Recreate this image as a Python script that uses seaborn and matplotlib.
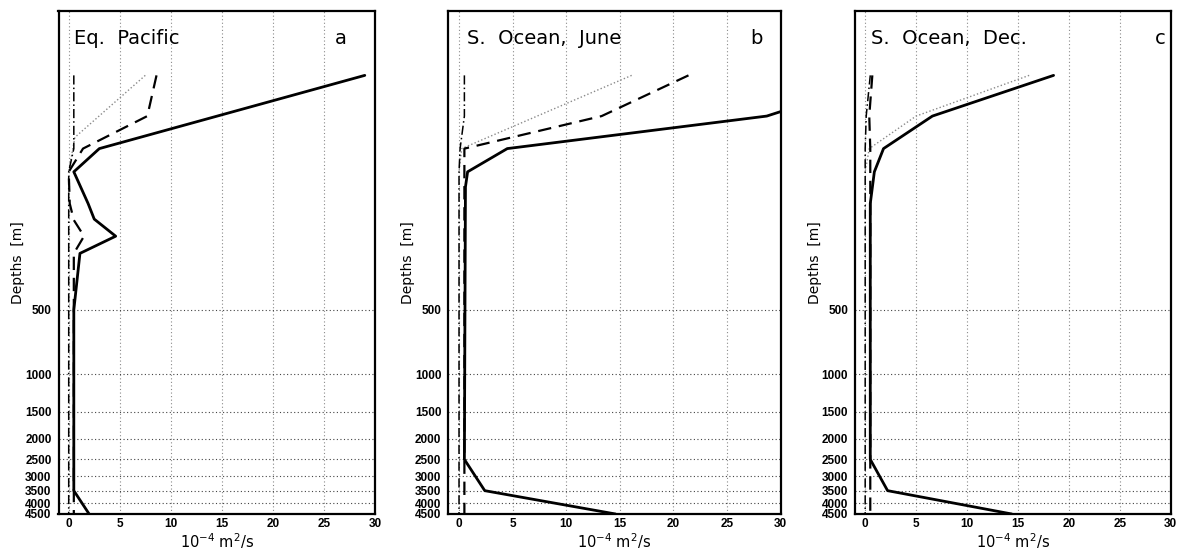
import matplotlib
matplotlib.use("Agg")
import matplotlib.pyplot as plt
from matplotlib.ticker import NullLocator, FixedLocator
import seaborn as sns

# Panel titles and letters
regions = ["Eq.  Pacific", "S.  Ocean,  June", "S.  Ocean,  Dec."]
letters = ["a", "b", "c"]

depth_ticks = [500, 1000, 1500, 2000, 2500, 3000, 3500, 4000, 4500]
x_ticks = [0, 5, 10, 15, 20, 25, 30]

# Eq. Pacific profiles (depth [m], diffusivity [1e-4 m2/s])
a_solid_depth = [40, 88, 113, 159, 188, 226, 272, 500, 3500, 4500]
a_solid = [29.0, 3.0, 0.5, 1.9, 2.5, 4.6, 1.1, 0.5, 0.5, 2.0]
a_dash_depth = [40, 62, 88, 113, 159, 190, 226, 272, 4500]
a_dash = [8.6, 7.7, 1.4, 0.0, 0.1, 0.5, 1.5, 0.5, 0.5]
a_dashdot_depth = [40, 88, 113, 4500]
a_dashdot = [0.5, 0.5, 0.0, 0.0]
a_dot_depth = [40, 78, 113]
a_dot = [7.5, 0.6, 0.0]

# S. Ocean, June profiles
b_solid_depth = [40, 62, 88, 113, 133, 2500, 3500, 4500]
b_solid = [40.5, 28.7, 4.5, 0.8, 0.6, 0.5, 2.4, 14.6]
b_dash_depth = [40, 62, 88, 4500]
b_dash = [21.4, 13.3, 0.5, 0.5]
b_dashdot_depth = [40, 62, 88, 113, 4500]
b_dashdot = [0.5, 0.5, 0.1, 0.0, 0.0]
b_dot_depth = [40, 88, 113]
b_dot = [16.1, 0.25, 0.0]

# S. Ocean, Dec. profiles
c_solid_depth = [40, 62, 88, 113, 159, 2500, 3500, 4500]
c_solid = [18.5, 6.6, 1.8, 0.9, 0.5, 0.5, 2.2, 14.4]
c_dash_depth = [40, 62, 88, 4500]
c_dash = [0.7, 0.4, 0.5, 0.5]
c_dashdot_depth = [40, 62, 88, 4500]
c_dashdot = [0.5, 0.1, 0.0, 0.0]
c_dot_depth = [40, 62, 88, 113]
c_dot = [16.1, 5.0, 0.4, 0.0]

profiles = [
    [(a_dot_depth, a_dot), (a_dashdot_depth, a_dashdot), (a_dash_depth, a_dash), (a_solid_depth, a_solid)],
    [(b_dot_depth, b_dot), (b_dashdot_depth, b_dashdot), (b_dash_depth, b_dash), (b_solid_depth, b_solid)],
    [(c_dot_depth, c_dot), (c_dashdot_depth, c_dashdot), (c_dash_depth, c_dash), (c_solid_depth, c_solid)],
]

line_styles = [
    dict(color="#8a8a8a", lw=1.0, linestyle=(0, (1, 1.6))),
    dict(color="black", lw=1.1, linestyle=(0, (6, 2, 1, 2))),
    dict(color="black", lw=1.6, linestyle=(0, (6, 3.5))),
    dict(color="black", lw=2.0, linestyle="-"),
]

sns.set_style("white")
plt.rcParams["font.family"] = ["DejaVu Sans"]
plt.rcParams["text.color"] = "black"
plt.rcParams["axes.labelcolor"] = "black"
plt.rcParams["xtick.color"] = "black"
plt.rcParams["ytick.color"] = "black"

W, H = 1182, 550
fig = plt.figure(figsize=(W / 100, H / 100), dpi=100)

# panel boxes in pixels: left, right
boxes = [(58.5, 375.0), (448.3, 780.7), (855.0, 1170.7)]
top_px, bot_px = 11.0, 514.0
title_x = [0.049, 0.057, 0.050]
letter_x = [0.891, 0.928, 0.966]

for i, (l, r) in enumerate(boxes):
    ax = fig.add_axes([l / W, (H - bot_px) / H, (r - l) / W, (bot_px - top_px) / H])
    ax.set_axisbelow(True)
    for (dep, val), st in zip(profiles[i], line_styles):
        sns.lineplot(x=val, y=dep, sort=False, estimator=None, ax=ax, **st)

    ax.set_yscale("log")
    ax.set_ylim(4500, 20)
    ax.set_xlim(-1, 30)
    ax.yaxis.set_major_locator(FixedLocator(depth_ticks))
    ax.yaxis.set_minor_locator(NullLocator())
    ax.set_yticklabels([str(d) for d in depth_ticks])
    ax.set_xticks(x_ticks)
    ax.set_xticklabels([str(t) for t in x_ticks])

    for lab in ax.get_xticklabels() + ax.get_yticklabels():
        lab.set_fontfamily("Liberation Sans")
        lab.set_fontweight("bold")
        lab.set_fontsize(8.5)
        lab.set_color("black")
    ax.tick_params(axis="both", length=0)
    ax.tick_params(axis="y", pad=5)
    ax.tick_params(axis="x", pad=3)

    ax.xaxis.grid(True, color="#8a8a8a", lw=0.8, linestyle=(0, (1, 2.2)))
    ax.yaxis.grid(True, color="#444444", lw=0.8, linestyle=(0, (1, 2.2)))

    for sp in ax.spines.values():
        sp.set_visible(True)
        sp.set_color("black")
        sp.set_linewidth(1.6)

    ax.set_xlabel(r"$10^{-4}$ m$^{2}$/s", fontsize=10.5, labelpad=1, color="black")
    ax.set_ylabel("Depths  [m]", fontsize=10, labelpad=0, color="black")

    ax.text(title_x[i], 0.9463, regions[i], transform=ax.transAxes,
            fontsize=14, ha="left", va="center", color="black")
    ax.text(letter_x[i], 0.9463, letters[i], transform=ax.transAxes,
            fontsize=14, ha="center", va="center", color="black")

fig.savefig("out.png", dpi=100)
